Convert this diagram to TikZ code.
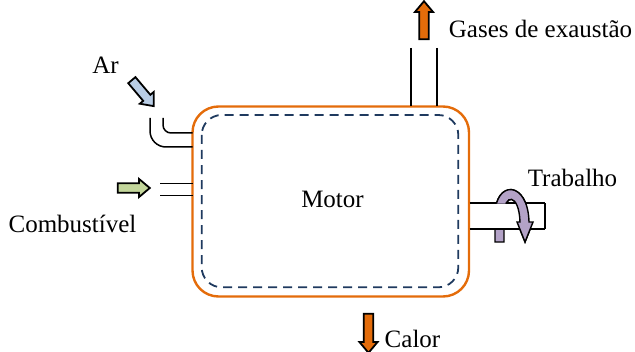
\documentclass[tikz,border=0pt]{standalone}
\usepackage{fontspec}
\setmainfont{Liberation Serif}
\usetikzlibrary{shapes.arrows}
\definecolor{engine}{HTML}{E46C0A}
\definecolor{boundary}{HTML}{1F3A5F}
\definecolor{airblue}{HTML}{B9CDE5}
\definecolor{fuelgreen}{HTML}{C3D69B}
\definecolor{torque}{HTML}{B3A2C7}
\newcommand{\crankpath}{(495,242) -- (495,215) .. controls (495,180) and (528,180) .. (529,222) -- (533,222) -- (525,242) -- (517,222) -- (520,222) .. controls (519,193) and (504,193) .. (504,215) -- (504,242) -- cycle}

\begin{document}
\begin{tikzpicture}[x=0.5pt,y=-0.5pt,font=\fontsize{12.5}{15}\selectfont,
  pipe/.style={line width=0.75pt},
  flow/.style={single arrow,draw=black,line width=0.9pt,inner sep=0pt,inner ysep=1.9pt,
    single arrow head extend=2.2pt,single arrow tip angle=80}]
\useasboundingbox (0,0) rectangle (635,352);
\draw[engine,line width=1.2pt,rounded corners=13pt] (192.5,106.5) rectangle (469,296.5);
\draw[boundary,line width=0.9pt,dash pattern=on 4.5pt off 3pt,rounded corners=10pt] (201.7,115) rectangle (458.3,287.3);
\node[anchor=base] (motor) at (332.5,207) {Motor};
\draw[pipe] (411,48) -- (411,106.5) (437,48) -- (437,106.5);
\draw[pipe,rounded corners=8pt] (150,118) -- (150,147) -- (192.5,147);
\draw[pipe,rounded corners=4pt] (163,118) -- (163,133) -- (192.5,133);
\draw[pipe] (160,183.3) -- (192.5,183.3) (160,195.7) -- (192.5,195.7);
\node[flow,fill=engine,minimum height=19pt,rotate=90] (exhaust) at (424,23) {};
\node[flow,fill=airblue,minimum height=17pt,rotate=-49.8] (air) at (141,91) {};
\node[flow,fill=fuelgreen,minimum height=16pt] (fuel) at (131,188) {};
\node[flow,fill=engine,minimum height=19.5pt,rotate=-90] (heat) at (368.5,330.5) {};
\node[anchor=base] (airlabel) at (105.5,74) {Ar};
\node[anchor=base] (fuellabel) at (72.5,232) {Combustível};
\node[anchor=base] (exhaustlabel) at (540.5,38) {Gases de exaustão};
\node[anchor=base] (worklabel) at (572.5,186) {Trabalho};
\node[anchor=base] (heatlabel) at (412.5,347) {Calor};
\draw[fill=torque,line width=0.7pt] \crankpath;
\fill[white] (470.5,204) rectangle (545,228);
\draw[pipe] (469.5,203) -- (545,203) (469.5,229) -- (545,229);
\draw[line width=1.3pt] (545,203) -- (545,229);
\begin{scope}
\clip (509,150) rectangle (560,260) (480,150) rectangle (560,203.5);
\draw[fill=torque,line width=0.7pt] \crankpath;
\end{scope}
\end{tikzpicture}
\end{document}
